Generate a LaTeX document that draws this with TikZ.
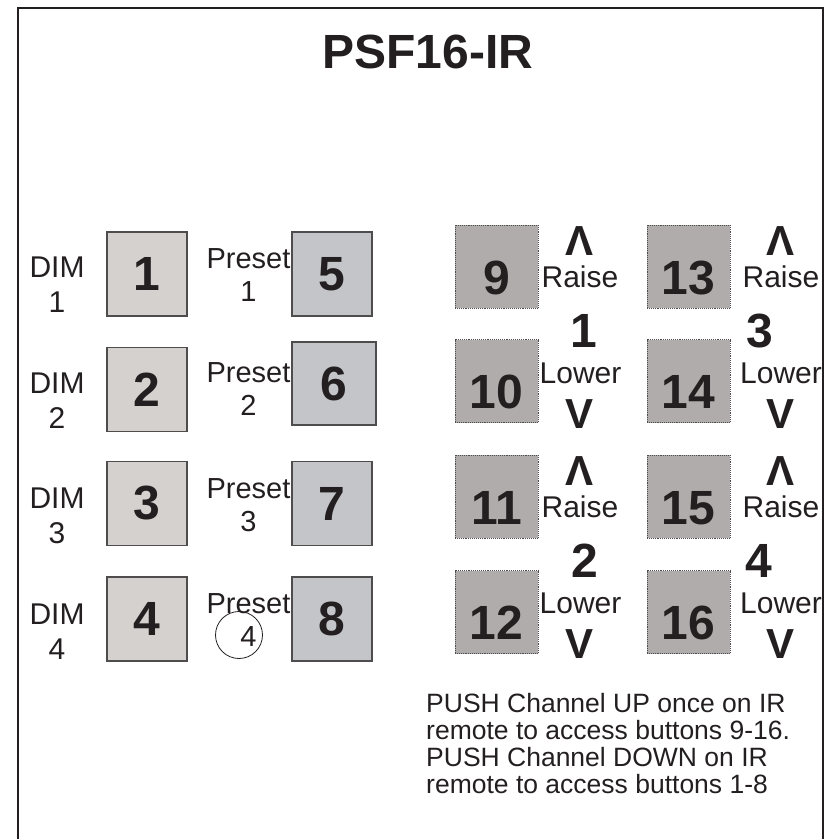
\documentclass[tikz,border=0pt]{standalone}
\usepackage{fontspec}
\setmainfont{Liberation Sans}
\usepackage{xcolor}
\usepackage{tikz}
\usetikzlibrary{positioning}
\pgfdeclarelayer{boxlayer}
\pgfsetlayers{boxlayer,main}
\definecolor{ink}{HTML}{231F20}
\definecolor{dimfill}{HTML}{D4D1CF}
\definecolor{presetfill}{HTML}{C4C5C9}
\definecolor{rampfill}{HTML}{B1ACAC}

\begin{document}
\begin{tikzpicture}[x=1pt, y=-1pt,
  every node/.style={inner sep=0pt, text=ink},
  num/.style={font=\fontsize{48}{48}\selectfont\bfseries},
  dimbtn/.style={num, draw=ink!80, line width=1.2pt, fill=dimfill, minimum width=80pt, minimum height=84pt},
  presetbtn/.style={dimbtn, fill=presetfill},
  rampbtn/.style={num, draw=ink!80, densely dotted, line width=0.9pt, fill=rampfill, minimum width=83pt, minimum height=83pt, text height=55pt, text depth=0pt},
  dimlbl/.style={font=\fontsize{30}{35}\selectfont, align=center, anchor=base},
  presetlbl/.style={font=\fontsize{29}{33}\selectfont, align=center, anchor=base},
  word/.style={font=\fontsize{30}{30}\selectfont, anchor=base},
  arrowch/.style={font=\fontsize{42}{42}\selectfont\bfseries, anchor=base},
  chnum/.style={num, anchor=base}]
  \useasboundingbox (0,0) rectangle (833,839);
  \draw [ink, line width=2.7pt] (18,839) -- (18,8) -- (823,8) -- (823,839);
  \node [num, anchor=base] (title) at (428,68) {PSF16-IR};

  \begin{pgfonlayer}{boxlayer}
    \node [dimbtn] (1) at (147,274) {1};
    \node [dimbtn] (2) at (147,389.5) {2};
    \node [dimbtn] (3) at (147,503.5) {3};
    \node [dimbtn] (4) at (147,619) {4};
    \node [presetbtn] (5) at (332,274) {5};
    \node [presetbtn, minimum width=84pt, minimum height=83pt] (6) at (334,383.5) {6};
    \node [presetbtn] (7) at (332,503.5) {7};
    \node [presetbtn] (8) at (332,619) {8};
    \node [rampbtn] (9) at (496.5,266.5) {9};
    \node [rampbtn] (10) at (496.5,381) {10};
    \node [rampbtn] (11) at (496.5,496.5) {11};
    \node [rampbtn] (12) at (496.5,612) {12};
    \node [rampbtn] (13) at (688.5,266.5) {13};
    \node [rampbtn] (14) at (688.5,381) {14};
    \node [rampbtn] (15) at (688.5,496.5) {15};
    \node [rampbtn] (16) at (688.5,612) {16};
  \end{pgfonlayer}

  % dim and preset labels (base = last line)
  \node [dimlbl] (dim1) at (57,312) {DIM\\1};
  \node [dimlbl] (dim2) at (57,428) {DIM\\2};
  \node [dimlbl] (dim3) at (57,543) {DIM\\3};
  \node [dimlbl] (dim4) at (57,659) {DIM\\4};
  \node [presetlbl] (pre1) at (248.5,301) {Preset\\1};
  \node [presetlbl] (pre2) at (248.5,415) {Preset\\2};
  \node [presetlbl] (pre3) at (248.5,531) {Preset\\3};
  \node [presetlbl] (pre4) at (248.5,646) {Preset\\4};
  \node [circle, draw=ink, line width=0.8pt, minimum size=47pt] (ring) at (239,635) {};

  % raise / lower channels
  \node [arrowch] (up1) at (580,255) {Λ};
  \node [word] (raise1) at (580,287) {Raise};
  \node [chnum] (ch1) at (584,347) {1};
  \node [word] (lower1) at (580.5,383) {Lower};
  \node [arrowch] (down1) at (580,428) {V};
  \node [arrowch] (up3) at (781,255) {Λ};
  \node [word] (raise3) at (781,287) {Raise};
  \node [chnum] (ch3) at (760,347) {3};
  \node [word] (lower3) at (781,383) {Lower};
  \node [arrowch] (down3) at (781,428) {V};
  \node [arrowch] (up2) at (580,485) {Λ};
  \node [word] (raise2) at (580,517) {Raise};
  \node [chnum] (ch2) at (585,577) {2};
  \node [word] (lower2) at (580.5,613) {Lower};
  \node [arrowch] (down2) at (580,658) {V};
  \node [arrowch] (up4) at (781,485) {Λ};
  \node [word] (raise4) at (781,517) {Raise};
  \node [chnum] (ch4) at (759,577) {4};
  \node [word] (lower4) at (781,613) {Lower};
  \node [arrowch] (down4) at (781,658) {V};

  \node [font=\fontsize{26.5}{26.7}\selectfont, align=left, anchor=base west] (note) at (426,793)
    {PUSH Channel UP once on IR\\remote to access buttons 9-16.\\PUSH Channel DOWN on IR\\remote to access buttons 1-8};
\end{tikzpicture}
\end{document}
